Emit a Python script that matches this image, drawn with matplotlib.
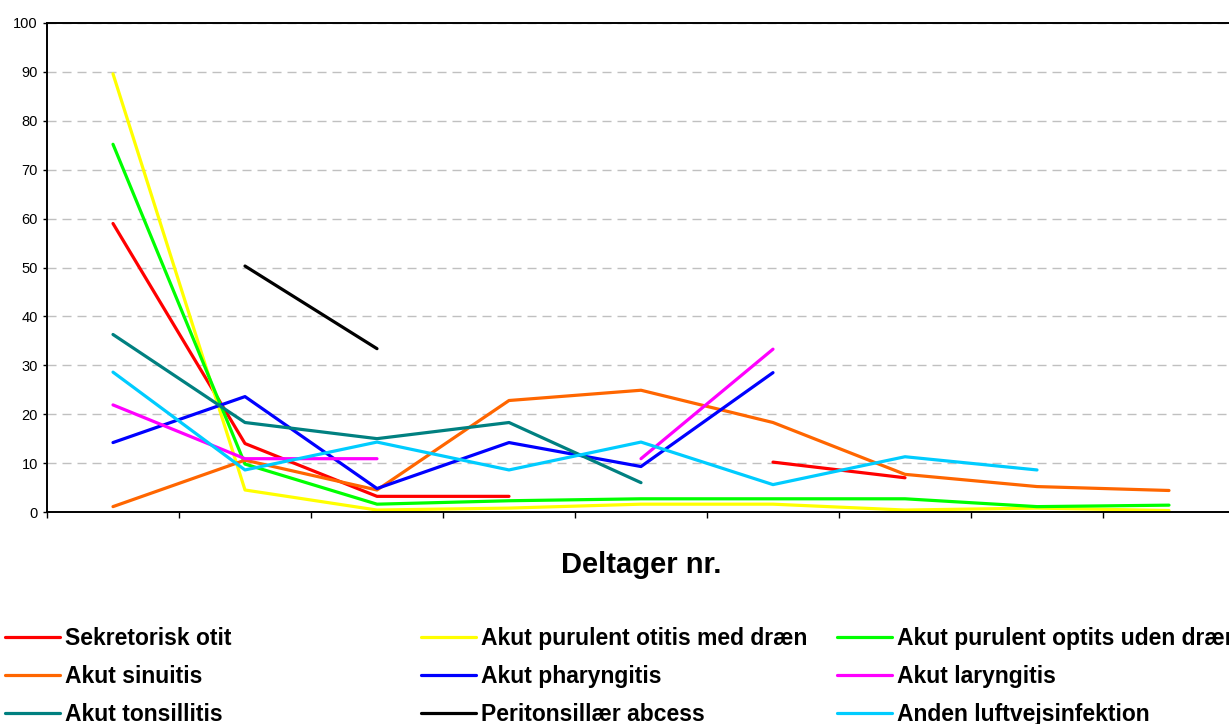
import numpy as np
import matplotlib.pyplot as plt

nan = np.nan

deltager = np.arange(1, 10)

sekretorisk = [59.0, 14.0, 3.2, 3.2, nan, 10.2, 7.0, nan, nan]
med_draen = [89.6, 4.5, 0.4, 0.8, 1.6, 1.6, 0.4, 0.8, 0.3]
uden_draen = [75.2, 9.8, 1.6, 2.3, 2.7, 2.7, 2.7, 1.1, 1.4]
sinuitis = [1.1, 10.6, 4.5, 22.8, 24.9, 18.3, 7.7, 5.2, 4.4]
pharyngitis = [14.2, 23.6, 4.8, 14.2, 9.3, 28.5, nan, nan, nan]
laryngitis = [21.9, 10.9, 10.9, nan, 10.9, 33.3, nan, nan, nan]
tonsillitis = [36.3, 18.3, 15.0, 18.3, 6.0, nan, nan, nan, nan]
abcess = [nan, 50.3, 33.4, nan, nan, nan, nan, nan, nan]
anden = [28.6, 8.6, 14.3, 8.6, 14.3, 5.6, 11.3, 8.6, nan]

serier = [
    ("Sekretorisk otit", sekretorisk, "#FF0000"),
    ("Akut purulent otitis med dræn", med_draen, "#FFFF00"),
    ("Akut purulent optits uden dræn", uden_draen, "#00FF00"),
    ("Akut sinuitis", sinuitis, "#FF6600"),
    ("Akut pharyngitis", pharyngitis, "#0000FF"),
    ("Akut laryngitis", laryngitis, "#FF00FF"),
    ("Akut tonsillitis", tonsillitis, "#008080"),
    ("Peritonsillær abcess", abcess, "#000000"),
    ("Anden luftvejsinfektion", anden, "#00CCFF"),
]

plt.rcParams['font.family'] = ['Liberation Sans', 'DejaVu Sans']

fig = plt.figure(figsize=(12.29, 7.24), dpi=100)
# plot area runs past the right edge, as in the cropped original
ax = fig.add_axes([47/1229, 1 - 512/724, 1188/1229, 489/724])

handles = []
for navn, vals, farve in serier:
    ln, = ax.plot(deltager, vals, color=farve, lw=2.3, label=navn,
                  solid_capstyle='round', clip_on=False)
    handles.append(ln)

ax.set_xlim(0.5, 9.5)
ax.set_ylim(0, 100)
ax.set_yticks(np.arange(0, 101, 10))
ax.set_xticks(np.arange(0.5, 9.6, 1))
ax.set_xticklabels([])
ax.tick_params(axis='y', direction='out', length=3, width=1, labelsize=10.5, pad=3.5)
ax.tick_params(axis='x', direction='out', length=4, width=1)
ax.yaxis.grid(True, color='#C0C0C0', linestyle=(0, (6.5, 4.3)), lw=1)
ax.set_axisbelow(True)
for s in ax.spines.values():
    s.set_color('black')
    s.set_linewidth(1.4)

ax.text(0.5, -(573 - 512)/489, "Deltager nr.", transform=ax.transAxes,
        ha='center', va='baseline', fontsize=21, fontweight='bold')

# legend in three columns, row order as in the original
leg_x = [5/1229, 421/1229, 837/1229]
for k in range(3):
    lg = ax.legend(handles=[handles[k], handles[k+3], handles[k+6]],
                   loc='upper left', bbox_to_anchor=(leg_x[k], 1 - 627/724),
                   bbox_transform=fig.transFigure, frameon=False,
                   borderpad=0, borderaxespad=0, handlelength=2.4,
                   handletextpad=0.2, labelspacing=0.66,
                   prop={'weight': 'bold', 'size': 16.5})
    for l in lg.get_lines():
        l.set_linewidth(2.3)
    if k < 2:
        ax.add_artist(lg)

fig.savefig("out.png", dpi=100)
